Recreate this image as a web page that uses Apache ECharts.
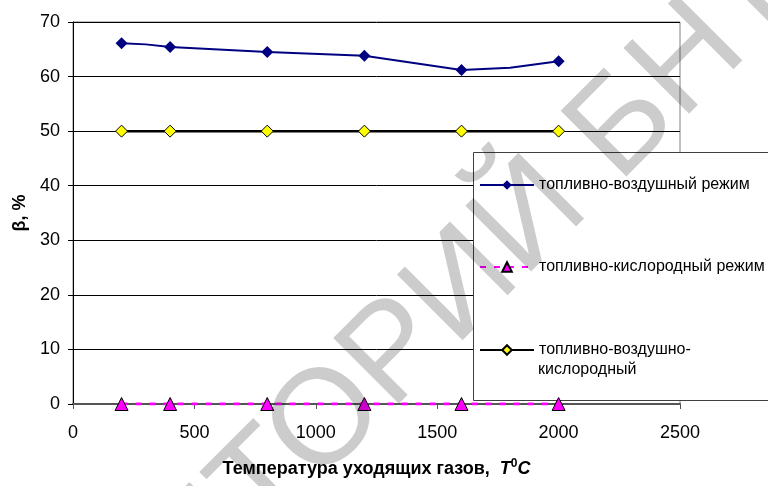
<!DOCTYPE html>
<html><head><meta charset="utf-8">
<script src="https://cdn.jsdelivr.net/npm/echarts@6/dist/echarts.min.js"></script>
<style>html,body{margin:0;padding:0;background:#fff}#c{width:768px;height:486px}</style>
</head><body><div id="c"></div>
<script>
// Data
var seriesNames = ['топливно-воздушный режим', 'топливно-кислородный режим', 'топливно-воздушно-кислородный'];
var legendLines3 = ['топливно-воздушно-', 'кислородный'];
var airX = [200, 300, 400, 800, 1200, 1600, 1800, 2000];
var airY = [66.1, 65.9, 65.4, 64.5, 63.8, 61.2, 61.6, 62.8];
var airMarked = [true, false, true, true, true, true, false, true];
var oxyX = [200, 400, 800, 1200, 1600, 2000];
var oxyY = [0, 0, 0, 0, 0, 0];
var mixX = [200, 400, 800, 1200, 1600, 2000];
var mixY = [50, 50, 50, 50, 50, 50];
var xTicks = [0, 500, 1000, 1500, 2000, 2500];
var yTicks = [0, 10, 20, 30, 40, 50, 60, 70];

var chart = echarts.init(document.getElementById('c'), null, {renderer: 'canvas'});
var font = 'Liberation Sans, Arial, sans-serif';

function pairs(xs, ys) { return xs.map(function (x, i) { return [x, ys[i]]; }); }
var airData = airX.map(function (x, i) {
  return airMarked[i] ? {value: [x, airY[i]]} : {value: [x, airY[i]], symbol: 'none'};
});

var legendCommon = {
  orient: 'vertical', itemWidth: 54, itemHeight: 12, itemGap: 0, z: 10,
  textStyle: {fontFamily: font, fontSize: 16, color: '#000'},
  backgroundColor: 'transparent', padding: 0, selectedMode: false
};

chart.setOption({
  animation: false,
  backgroundColor: '#fff',
  grid: {left: 73, right: 88, top: 22, bottom: 82, containLabel: false, outerBoundsMode: 'none',
         show: true, borderColor: '#808080', borderWidth: 1},
  xAxis: {
    type: 'value', min: xTicks[0], max: xTicks[xTicks.length - 1], interval: 500,
    name: '{b|Температура уходящих газов,  }{i|T}{s|0}{i|C}',
    nameLocation: 'middle', nameGap: 54,
    nameTextStyle: {rich: {
      b: {fontFamily: font, fontSize: 18, fontWeight: 'bold', color: '#000'},
      i: {fontFamily: font, fontSize: 18, fontWeight: 'bold', fontStyle: 'italic', color: '#000'},
      s: {fontFamily: font, fontSize: 12, fontWeight: 'bold', color: '#000', verticalAlign: 'top', padding: [0, 0, 10, 0]}
    }},
    axisLine: {show: true, onZero: false, lineStyle: {color: '#555', width: 2}},
    axisTick: {show: true, inside: false, length: 5, lineStyle: {color: '#555'}},
    axisLabel: {fontFamily: font, fontSize: 18, color: '#000', margin: 20,
                formatter: function (v) { return String(v); }},
    splitLine: {show: false}
  },
  yAxis: {
    type: 'value', min: yTicks[0], max: yTicks[yTicks.length - 1], interval: 10,
    name: 'β, %', nameLocation: 'middle', nameGap: 42, nameRotate: 90,
    nameTextStyle: {fontFamily: font, fontSize: 18, fontWeight: 'bold', color: '#000'},
    axisLine: {show: true, lineStyle: {color: '#000', width: 1}},
    axisTick: {show: true, length: 5, lineStyle: {color: '#000'}},
    axisLabel: {fontFamily: font, fontSize: 18, color: '#000', margin: 13,
                formatter: function (v) { return String(v); }},
    splitLine: {show: true, lineStyle: {color: '#000', width: 1}}
  },
  legend: [
    Object.assign({}, legendCommon, {data: [seriesNames[0]], left: 479, top: 177}),
    Object.assign({}, legendCommon, {data: [seriesNames[1]], left: 479, top: 259}),
    Object.assign({}, legendCommon, {data: [seriesNames[2]], left: 479, top: 342,
      formatter: function () { return legendLines3[0]; }})
  ],
  graphic: [
    {type: 'rect', z: 2, shape: {x: 473.5, y: 152.5, width: 400, height: 248},
     style: {fill: '#fff', stroke: '#404040', lineWidth: 1}},
    {type: 'text', z: 11, x: 538, y: 370,
     style: {text: legendLines3[1], font: '16px ' + font, fill: '#000',
             textAlign: 'left', textVerticalAlign: 'middle'}},
    {type: 'text', z: 100, x: -160, y: 910, rotation: Math.PI / 4,
     style: {text: 'РЕПОЗИТОРИЙ БНТУ', font: '135px ' + font, fill: 'rgba(0,0,0,0.2)',
             textAlign: 'left', textVerticalAlign: 'middle'}, silent: true}
  ],
  series: [
    {name: seriesNames[0], type: 'line', data: airData, symbol: 'diamond', symbolSize: 12,
     itemStyle: {color: '#000080'}, lineStyle: {color: '#000080', width: 2}, z: 3},
    {name: seriesNames[1], type: 'line', data: pairs(oxyX, oxyY), symbol: 'triangle', symbolSize: 13,
     itemStyle: {color: '#ff00ff', borderColor: '#000', borderWidth: 1},
     lineStyle: {color: '#ff00ff', width: 3, type: [6, 8]}, z: 3},
    {name: seriesNames[2], type: 'line', data: pairs(mixX, mixY), symbol: 'diamond', symbolSize: 12,
     itemStyle: {color: '#ffff00', borderColor: '#000', borderWidth: 1},
     lineStyle: {color: '#000', width: 2.5}, z: 3}
  ]
});
</script></body></html>
